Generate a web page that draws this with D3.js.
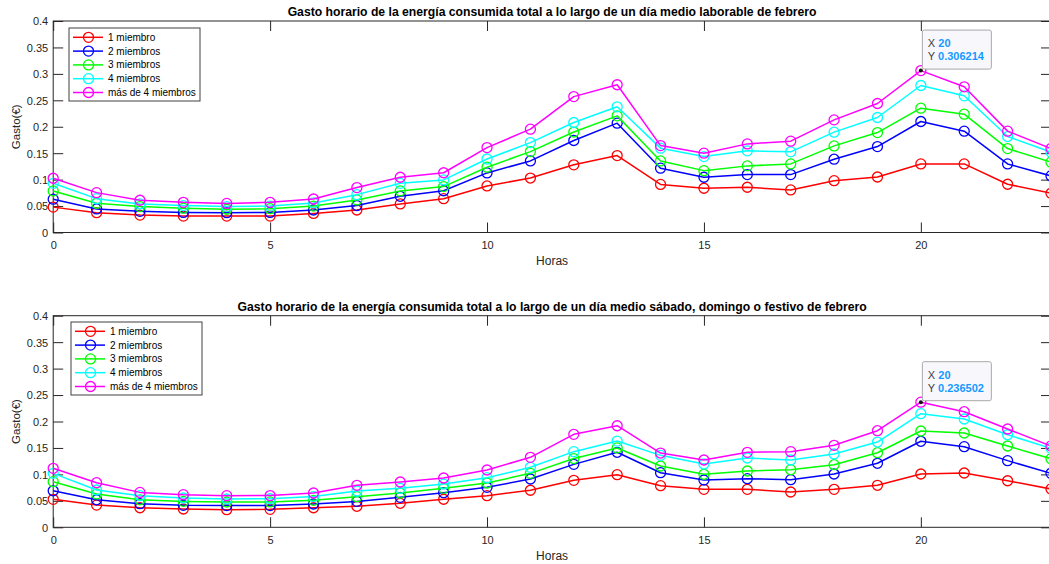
<!DOCTYPE html>
<html>
<head>
<meta charset="utf-8">
<script src="https://cdn.jsdelivr.net/npm/d3@7"></script>
<style>
  html, body { margin: 0; padding: 0; background: #ffffff; }
  svg { display: block; font-family: "Liberation Sans", Arial, Helvetica, sans-serif; }
</style>
</head>
<body>
<svg id="chart" width="1049" height="564"></svg>
<script>
// Hours of the day (x categories)
const horas = [0, 1, 2, 3, 4, 5, 6, 7, 8, 9, 10, 11, 12, 13, 14, 15, 16, 17, 18, 19, 20, 21, 22, 23];

const seriesNames = ["1 miembro", "2 miembros", "3 miembros", "4 miembros", "más de 4 miembros"];
const seriesColors = ["#ff0000", "#0000ff", "#00ff00", "#00ffff", "#ff00ff"];

const xTicks = [0, 5, 10, 15, 20];
const yTicks = [0, 0.05, 0.1, 0.15, 0.2, 0.25, 0.3, 0.35, 0.4];
const yTickLabels = ["0", "0.05", "0.1", "0.15", "0.2", "0.25", "0.3", "0.35", "0.4"];

// Working day (laborable) hourly cost, €
const laborable1 = [0.048, 0.0375, 0.033, 0.031, 0.031, 0.031, 0.036, 0.0426, 0.054, 0.064, 0.088, 0.103, 0.128, 0.1455, 0.091, 0.0837, 0.0856, 0.0805, 0.098, 0.105, 0.1297, 0.1297, 0.0913, 0.0742];
const laborable2 = [0.063, 0.0445, 0.040, 0.038, 0.0375, 0.038, 0.0426, 0.051, 0.0685, 0.079, 0.1127, 0.1354, 0.174, 0.2068, 0.1216, 0.1045, 0.1095, 0.1095, 0.1386, 0.1625, 0.2099, 0.1916, 0.1297, 0.107];
const laborable3 = [0.0786, 0.0553, 0.049, 0.046, 0.044, 0.045, 0.050, 0.0616, 0.0786, 0.0868, 0.1235, 0.153, 0.190, 0.2206, 0.1354, 0.117, 0.126, 0.1297, 0.1638, 0.189, 0.2352, 0.2238, 0.1587, 0.133];
const laborable4 = [0.093, 0.064, 0.054, 0.051, 0.049, 0.050, 0.056, 0.0716, 0.093, 0.0994, 0.139, 0.170, 0.208, 0.2377, 0.1595, 0.1436, 0.1544, 0.1525, 0.1898, 0.2175, 0.278, 0.2585, 0.1815, 0.152];
const laborable5 = [0.1026, 0.0754, 0.061, 0.057, 0.055, 0.057, 0.0634, 0.085, 0.1045, 0.113, 0.1606, 0.1954, 0.257, 0.2794, 0.1644, 0.150, 0.1676, 0.1727, 0.213, 0.244, 0.306214, 0.2756, 0.1917, 0.1587];

// Saturday, Sunday or holiday hourly cost, €
const festivo1 = [0.0529, 0.042, 0.037, 0.0346, 0.0333, 0.034, 0.037, 0.0397, 0.0454, 0.053, 0.0598, 0.070, 0.0888, 0.0995, 0.0787, 0.0718, 0.0718, 0.0667, 0.0718, 0.0794, 0.1008, 0.1026, 0.088, 0.0724];
const festivo2 = [0.069, 0.052, 0.0446, 0.0415, 0.041, 0.041, 0.044, 0.049, 0.0567, 0.0654, 0.0756, 0.0913, 0.119, 0.1418, 0.1032, 0.0894, 0.0919, 0.090, 0.1008, 0.121, 0.1626, 0.1524, 0.126, 0.102];
const festivo3 = [0.0862, 0.063, 0.052, 0.049, 0.0478, 0.048, 0.051, 0.0579, 0.0648, 0.0737, 0.0837, 0.102, 0.130, 0.150, 0.1159, 0.1002, 0.1064, 0.109, 0.1183, 0.141, 0.182, 0.1783, 0.1537, 0.1297];
const festivo4 = [0.102, 0.0705, 0.0597, 0.0554, 0.0535, 0.054, 0.058, 0.0686, 0.0737, 0.0818, 0.0938, 0.1134, 0.143, 0.163, 0.136, 0.1197, 0.131, 0.1272, 0.1386, 0.1612, 0.2148, 0.2047, 0.175, 0.1493];
const festivo5 = [0.1115, 0.0843, 0.066, 0.0617, 0.0598, 0.060, 0.0648, 0.0794, 0.0856, 0.0932, 0.1083, 0.1323, 0.1758, 0.192, 0.1404, 0.1272, 0.1417, 0.143, 0.155, 0.1826, 0.236502, 0.2185, 0.1858, 0.1537];

const titles = [
  "Gasto horario de la energía consumida total a lo largo de un día medio laborable de febrero",
  "Gasto horario de la energía consumida total a lo largo de un día medio sábado, domingo o festivo de febrero"
];
const xLabel = "Horas";
const yLabel = "Gasto(€)";

// Data tip shown on each panel: [hour, series index]
const tipHour = 20;
const tipSeries = 4;

const panels = [
  { title: titles[0], series: [laborable1, laborable2, laborable3, laborable4, laborable5],
    top: 21, bottom: 232.5, legend: { x: 69, y: 28 } },
  { title: titles[1], series: [festivo1, festivo2, festivo3, festivo4, festivo5],
    top: 315.7, bottom: 527.3, legend: { x: 71, y: 322 } }
];

const AX = "#262626";
const left = 53.2, right = 1051;
const svg = d3.select("#chart");

panels.forEach(p => {
  const x = d3.scaleLinear().domain([0, 23]).range([left, right]);
  const y = d3.scaleLinear().domain([0, 0.4]).range([p.bottom, p.top]);
  const g = svg.append("g");

  // Axes: box with inward ticks on all four sides
  const tickLen = 10;
  const xb = g.append("g").attr("transform", `translate(0,${p.bottom})`)
    .call(d3.axisBottom(x).tickValues(xTicks).tickSize(-tickLen).tickFormat(d3.format("d")));
  const xt = g.append("g").attr("transform", `translate(0,${p.top})`)
    .call(d3.axisTop(x).tickValues(xTicks).tickSize(-tickLen).tickFormat(""));
  const yl = g.append("g").attr("transform", `translate(${left},0)`)
    .call(d3.axisLeft(y).tickValues(yTicks).tickSize(-tickLen)
      .tickFormat((d, i) => yTickLabels[i]));
  const yr = g.append("g").attr("transform", `translate(${right},0)`)
    .call(d3.axisRight(y).tickValues(yTicks).tickSize(-tickLen).tickFormat(""));
  [xb, xt, yl, yr].forEach(a => {
    a.select(".domain").remove();
    a.selectAll(".tick line").attr("stroke", AX).attr("stroke-width", 1);
    a.selectAll(".tick text").attr("fill", AX).attr("font-size", 11)
      .attr("font-family", "Liberation Sans, Arial, sans-serif");
  });
  xb.selectAll(".tick text").attr("y", 12.5).attr("dy", "0.35em");
  yl.selectAll(".tick text").attr("x", -5).attr("dy", "0.35em");

  // Box outline
  g.append("rect").attr("x", left).attr("y", p.top)
    .attr("width", right - left).attr("height", p.bottom - p.top)
    .attr("fill", "none").attr("stroke", AX).attr("stroke-width", 1);

  // Title
  g.append("text").attr("x", (left + right) / 2).attr("y", p.top - 5)
    .attr("text-anchor", "middle").attr("font-weight", "bold").attr("font-size", 12.2)
    .attr("fill", "#000").text(p.title);
  // Axis labels
  g.append("text").attr("x", (left + right) / 2).attr("y", p.bottom + 32.5)
    .attr("text-anchor", "middle").attr("font-size", 12).attr("fill", AX).text(xLabel);
  g.append("text")
    .attr("transform", `translate(19.5,${(p.top + p.bottom) / 2}) rotate(-90)`)
    .attr("text-anchor", "middle").attr("font-size", 11.5).attr("fill", AX).text(yLabel);

  // Series lines with open circle markers
  const line = d3.line().x((d, i) => x(horas[i])).y(d => y(d));
  p.series.forEach((vals, si) => {
    const sg = g.append("g");
    sg.append("path").datum(vals).attr("d", line)
      .attr("fill", "none").attr("stroke", seriesColors[si]).attr("stroke-width", 1.5)
      .attr("stroke-linejoin", "round");
    sg.selectAll("circle").data(vals).join("circle")
      .attr("cx", (d, i) => x(horas[i])).attr("cy", d => y(d)).attr("r", 5)
      .attr("fill", "none").attr("stroke", seriesColors[si]).attr("stroke-width", 1.3);
  });

  // Legend
  const lg = g.append("g").attr("transform", `translate(${p.legend.x},${p.legend.y})`);
  lg.append("rect").attr("x", 0).attr("y", 0).attr("width", 131).attr("height", 73)
    .attr("fill", "#fff").attr("stroke", "#404040").attr("stroke-width", 1);
  seriesNames.forEach((name, i) => {
    const cy = 9.3 + i * 13.8;
    lg.append("line").attr("x1", 4).attr("x2", 34).attr("y1", cy).attr("y2", cy)
      .attr("stroke", seriesColors[i]).attr("stroke-width", 1.5);
    lg.append("circle").attr("cx", 19.5).attr("cy", cy).attr("r", 5)
      .attr("fill", "none").attr("stroke", seriesColors[i]).attr("stroke-width", 1.3);
    lg.append("text").attr("x", 39).attr("y", cy).attr("dy", "0.35em")
      .attr("font-size", 10).attr("fill", "#000").text(name);
  });

  // Data tip at the selected point
  const tv = p.series[tipSeries][horas.indexOf(tipHour)];
  const px = x(tipHour), py = y(tv);
  g.append("circle").attr("cx", px).attr("cy", py).attr("r", 2).attr("fill", "#111");
  const tg = g.append("g").attr("transform", `translate(${px + 1.5},${py - 40.5})`);
  tg.append("rect").attr("width", 69).attr("height", 39).attr("rx", 2)
    .attr("fill", "#f8f8fc").attr("stroke", "#a8a8a8").attr("stroke-width", 1);
  const rows = [["X", String(tipHour)], ["Y", String(tv)]];
  rows.forEach((r, i) => {
    const t = tg.append("text").attr("x", 5.5).attr("y", 13 + i * 13.4).attr("dy", "0.35em")
      .attr("font-size", 11);
    t.append("tspan").attr("fill", "#404040").text(r[0] + " ");
    t.append("tspan").attr("fill", "#1599ff").attr("font-weight", "bold").text(r[1]);
  });
});
</script>
</body>
</html>
